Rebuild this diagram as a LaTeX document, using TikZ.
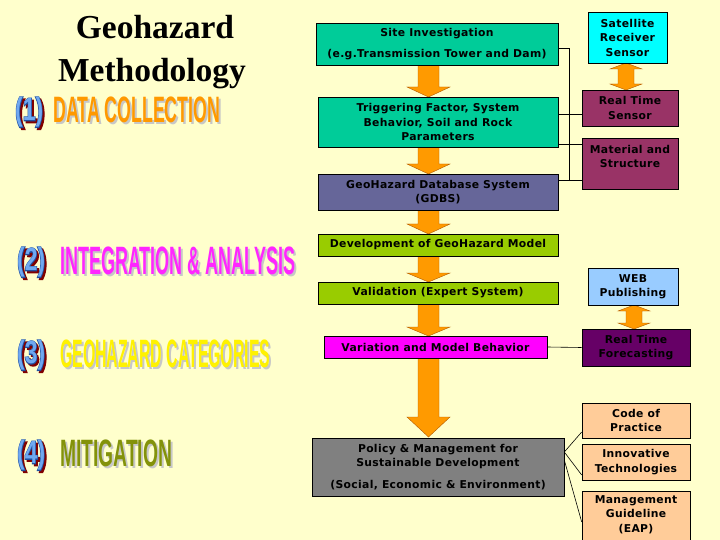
\documentclass[tikz,border=0pt]{standalone}
\usepackage{fontspec}
\usepackage{graphicx}
\setmainfont{Liberation Serif}
\newfontfamily\boxfont[LetterSpace=3]{DejaVu Sans}
\newfontfamily\bannerfont{Liberation Sans}
\newfontfamily\edgefont[FakeBold=5]{Liberation Sans Bold}

\definecolor{paper}{HTML}{FFFFCC}
\definecolor{sitegreen}{HTML}{00CC99}
\definecolor{dbblue}{HTML}{666699}
\definecolor{satcyan}{HTML}{00FFFF}
\definecolor{sensorred}{HTML}{993366}
\definecolor{modelgreen}{HTML}{99CC00}
\definecolor{varmagenta}{HTML}{FF00FF}
\definecolor{webblue}{HTML}{99CCFF}
\definecolor{castpurple}{HTML}{660066}
\definecolor{policygray}{HTML}{808080}
\definecolor{guidepeach}{HTML}{FFCC99}
\definecolor{flowfill}{HTML}{FF9A00}
\definecolor{numfill}{HTML}{6FA8F0}
\definecolor{numedge}{HTML}{1F4FA0}
\definecolor{numshadow}{HTML}{800000}

% stage heading with a soft shadow
\newcommand{\headline}[6]{%
  \node[banner, text=black!22, xshift=2pt, yshift=-2pt] (#1s) at (#2) {\resizebox*{#3}{#4}{#6}};
  \node[banner, text=#5] (#1) at (#2) {\resizebox*{#3}{#4}{#6}};
}
% outlined stage number
\newcommand{\stagenum}[3]{%
  \node[banner, text=numshadow, xshift=2pt, yshift=-2pt] (#1s) at (#2) {\resizebox*{28pt}{30pt}{\edgefont #3}};
  \node[banner, text=numedge] (#1o) at (#2) {\resizebox*{28pt}{30pt}{\edgefont #3}};
  \node[banner, text=numfill] (#1) at (#2) {\resizebox*{28pt}{30pt}{#3}};
}

\begin{document}
\begin{tikzpicture}[x=1pt, y=-1pt,
  box/.style={draw=black, line width=0.6pt, inner sep=0pt, align=center,
    font=\boxfont\bfseries\fontsize{10.8}{14.5}\selectfont},
  banner/.style={anchor=north west, inner sep=0pt, font=\bannerfont\bfseries},
  title/.style={anchor=base, inner sep=0pt, font=\bfseries\fontsize{33.5}{40}\selectfont},
  flow/.style={fill=flowfill, draw=orange!70!black, line width=0.4pt},
  wire/.style={draw=black, line width=0.6pt}]
\useasboundingbox (0,0) rectangle (720,540);
\fill[paper] (0,0) rectangle (720,540);

% left column
\node[title] (title1) at (155,39) {Geohazard};
\node[title] (title2) at (152,82) {Methodology};
\stagenum{n1}{15,97}{(1)}
\headline{h1}{53,97}{167pt}{26pt}{orange!80!yellow}{DATA COLLECTION}
\stagenum{n2}{17,247}{(2)}
\headline{h2}{60,247}{235pt}{28pt}{varmagenta!85!white}{INTEGRATION \& ANALYSIS}
\stagenum{n3}{17,340}{(3)}
\headline{h3}{60,340}{210pt}{28pt}{yellow}{GEOHAZARD CATEGORIES}
\stagenum{n4}{17,440}{(4)}
\headline{h4}{60,440}{112pt}{27pt}{olive!80!green}{MITIGATION}

% block arrows
\foreach \ya/\yb/\hl in {65/97/10,147/174/10,210/234/10,256/282/9,304/336/9,358/437/20}
  \filldraw[flow] (418,\ya) -- (439,\ya) -- (439,\yb-\hl) -- (450,\yb-\hl) -- (428.5,\yb)
    -- (407,\yb-\hl) -- (418,\yb-\hl) -- cycle;
\foreach \x/\ya/\yb in {626/63/90,634/305/329}
  \filldraw[flow] (\x,\ya) -- (\x+16,\ya+6) -- (\x+8,\ya+6) -- (\x+8,\yb-6) -- (\x+16,\yb-6)
    -- (\x,\yb) -- (\x-16,\yb-6) -- (\x-8,\yb-6) -- (\x-8,\ya+6) -- (\x-16,\ya+6) -- cycle;

% main column
\node[box, fill=sitegreen, minimum width=242, minimum height=42] (site) at (437,44)
  {Site Investigation\\[6pt](e.g.Transmission Tower and Dam)};
\node[box, fill=sitegreen, minimum width=240, minimum height=50] (trig) at (438,122)
  {Triggering Factor, System\\Behavior, Soil and Rock\\Parameters};
\node[box, fill=dbblue, minimum width=240, minimum height=36] (gdbs) at (438,192)
  {GeoHazard Database System\\(GDBS)};
\node[box, fill=modelgreen, minimum width=240, minimum height=22] (dev) at (438,245)
  {Development of GeoHazard Model};
\node[box, fill=modelgreen, minimum width=240, minimum height=22] (valid) at (438,293)
  {Validation (Expert System)};
\node[box, fill=varmagenta, minimum width=223, minimum height=22] (var) at (435.5,347)
  {Variation and Model Behavior};
\node[box, fill=policygray, minimum width=252, minimum height=58] (pol) at (438,467)
  {Policy \& Management for\\Sustainable Development\\[7pt](Social, Economic \& Environment)};

% right column
\node[box, fill=satcyan, minimum width=79, minimum height=51] (sat) at (627.5,37.5)
  {Satellite\\Receiver\\Sensor};
\node[box, fill=sensorred, minimum width=96, minimum height=36] (rts) at (630,108)
  {Real Time\\Sensor};
\node[box, fill=sensorred, minimum width=96, minimum height=51] (mat) at (630,163.5)
  {Material and\\Structure\\\mbox{}};
\node[box, fill=webblue, minimum width=90, minimum height=37] (web) at (633,286.5)
  {WEB\\Publishing};
\node[box, fill=castpurple, minimum width=108, minimum height=37] (cast) at (636,347.5)
  {Real Time\\Forecasting};
\node[box, fill=guidepeach, minimum width=108, minimum height=35] (code) at (636,420.5)
  {Code of\\Practice};
\node[box, fill=guidepeach, minimum width=108, minimum height=36] (innov) at (636,462)
  {Innovative\\Technologies};
\node[box, fill=guidepeach, minimum width=108, minimum height=59] (guide) at (636,520.5)
  {Management\\Guideline\\(EAP)\\[-1pt]\mbox{}};

% connectors
\coordinate (bustop) at (569,48);
\coordinate (busend) at (569,180);
\draw[wire] ([yshift=-4pt]site.east) -- (bustop) -- (busend);
\draw[wire] ([yshift=8pt]trig.east) -- ([yshift=-6pt]rts.west);
\draw[wire] ([yshift=-22pt]trig.east) -- ([yshift=19.5pt]mat.west);
\draw[wire] ([yshift=12pt]gdbs.east) -- ([yshift=-16.5pt]mat.west);
\draw[wire] (var.east) -- (cast.west);
\draw[wire] ([yshift=15pt]pol.east) -- ([yshift=-11.5pt]code.west);
\draw[wire] ([yshift=15pt]pol.east) -- ([yshift=-13pt]innov.west);
\draw[wire] ([yshift=7pt]pol.east) -- ([yshift=-1.5pt]guide.west);
\end{tikzpicture}
\end{document}
